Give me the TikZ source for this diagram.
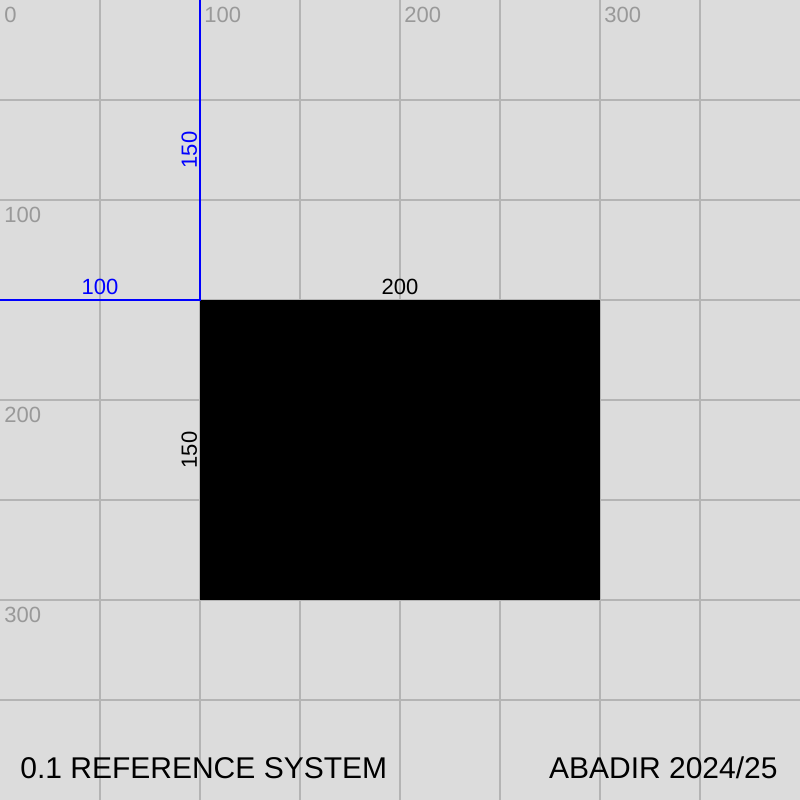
\documentclass[tikz,border=0pt]{standalone}
\usepackage{fontspec}
\setmainfont{Liberation Sans}
\definecolor{cbg}{HTML}{DCDCDC}
\definecolor{cgrid}{HTML}{B4B4B4}
\definecolor{clabel}{HTML}{999999}

\begin{document}
\begin{tikzpicture}[x=1pt,y=-1pt,
  grid label/.style={anchor=north west,inner sep=0pt,text=clabel,font=\fontsize{11}{13}\selectfont},
  dim label/.style={anchor=base,inner sep=0pt,font=\fontsize{11}{13}\selectfont},
  dim line/.style={draw=blue,line width=1pt},
  title text/.style={anchor=base,inner sep=0pt,font=\fontsize{15}{18}\selectfont}]
  % background and grid
  \fill[cbg] (0,0) rectangle (400,400);
  \useasboundingbox (0,0) rectangle (400,400);
  \foreach \i in {50,100,...,350} {
    \draw[cgrid,line width=0.75pt] (\i,0) -- (\i,400);
    \draw[cgrid,line width=0.75pt] (0,\i) -- (400,\i);
  }
  \node[grid label] (g0) at (2,3.5) {0};
  \node[grid label] (gx1) at (102,3.5) {100};
  \node[grid label] (gx2) at (202,3.5) {200};
  \node[grid label] (gx3) at (302,3.5) {300};
  \node[grid label] (gy1) at (2,103.5) {100};
  \node[grid label] (gy2) at (2,203.5) {200};
  \node[grid label] (gy3) at (2,303.5) {300};

  % the shape
  \fill[black] (100,150) rectangle (300,300);

  % offsets
  \coordinate (top) at (100,0);
  \coordinate (corner) at (100,150);
  \coordinate (left) at (0,150);
  \draw[dim line] (top) -- (corner) -- (left);
  \node[dim label,text=blue] (offx) at (50,147) {100};
  \node[dim label,text=blue,rotate=90] (offy) at (98.5,75) {150};
  \node[dim label] (width) at (200,147) {200};
  \node[dim label,rotate=90] (height) at (98.5,225) {150};

  % footer
  \node[title text,anchor=base west] (title) at (10,389) {0.1 REFERENCE SYSTEM};
  \node[title text,anchor=base east] (author) at (389,389) {ABADIR 2024/25};
\end{tikzpicture}
\end{document}
